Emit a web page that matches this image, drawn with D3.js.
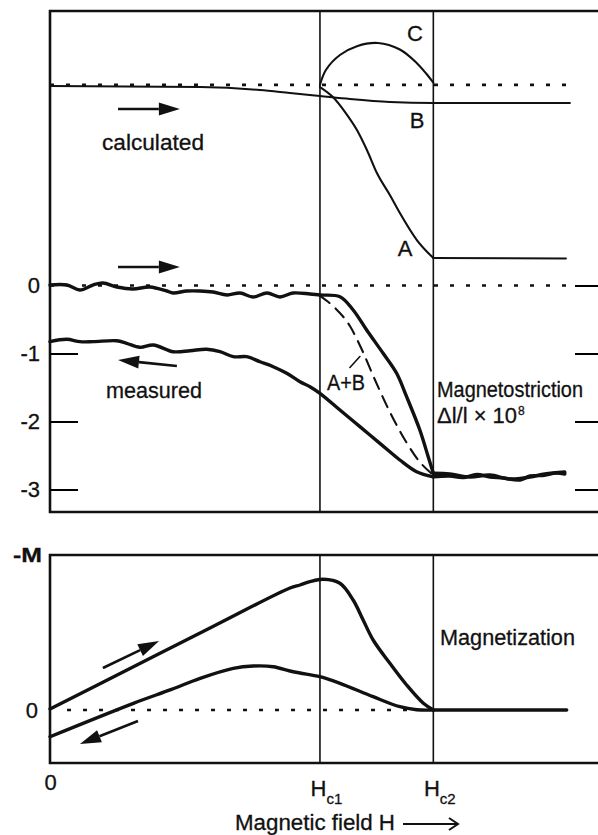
<!DOCTYPE html>
<html>
<head>
<title>Magnetostriction and magnetization</title>
<style>
body { margin: 0; background: #fff; }
text { font-family: 'Liberation Sans', Arial, sans-serif; fill: #111; }
.lbl { font-size: 22px; stroke: #111; stroke-width: 0.3; }
.curve { fill: none; stroke: #111; stroke-linejoin: round; stroke-linecap: round; }
</style>
<script src="https://d3js.org/d3.v7.min.js"></script>
</head>
<body>
<svg width="598" height="835"></svg>
<script>

// field in units of Hc1
const hc1 = 1.0;
const hc2 = 1.42;

// magnetostriction ticks (x 10^-8)
const strictTicks = [0, -1, -2, -3];

// calculated curves (offset so the dotted baseline sits at 2.95)
const calcBase = 2.95;
const calcA = [[1.0,2.919],[1.048,2.772],[1.093,2.551],[1.137,2.287],[1.174,1.993],[1.211,1.654],[1.259,1.331],[1.296,1.066],[1.359,0.669],[1.42,0.404]];
const calcATail = [[1.42,0.404],[1.911,0.397]];
const calcB = [[0,2.934],[0.556,2.919],[0.778,2.875],[0.889,2.831],[1.0,2.787],[1.111,2.743],[1.259,2.699],[1.42,2.684],[1.926,2.684]];
const calcC = [[1.0,2.949],[1.022,3.17],[1.074,3.39],[1.137,3.52],[1.215,3.566],[1.296,3.47],[1.359,3.27],[1.395,3.11],[1.42,2.982]];

// measured, increasing field
const measUp = [[0,0.007],[0.063,0.007],[0.111,-0.066],[0.159,0.007],[0.196,0.037],[0.248,-0.022],[0.307,-0.051],[0.370,-0.022],[0.433,-0.081],[0.456,-0.110],[0.507,-0.081],[0.556,-0.081],[0.604,-0.096],[0.656,-0.140],[0.704,-0.110],[0.752,-0.169],[0.804,-0.110],[0.852,-0.169],[0.900,-0.110],[0.963,-0.125],[1.0,-0.140],[1.074,-0.165],[1.123,-0.360],[1.173,-0.654],[1.234,-0.997],[1.284,-1.291],[1.321,-1.635],[1.370,-2.125],[1.401,-2.518],[1.42,-2.762]];
const measUpTail = [[1.42,-2.762],[1.481,-2.772],[1.556,-2.816],[1.630,-2.787],[1.704,-2.846],[1.778,-2.816],[1.833,-2.772],[1.907,-2.743]];
// measured, decreasing field
const measDown = [[0,-0.826],[0.062,-0.791],[0.111,-0.826],[0.160,-0.826],[0.247,-0.812],[0.284,-0.850],[0.333,-0.909],[0.383,-0.875],[0.457,-0.974],[0.519,-0.959],[0.580,-0.938],[0.630,-0.974],[0.679,-1.047],[0.729,-1.047],[0.778,-1.121],[0.827,-1.194],[0.877,-1.291],[0.926,-1.415],[0.963,-1.488],[1.0,-1.585],[1.074,-1.831],[1.148,-2.076],[1.222,-2.321],[1.296,-2.566],[1.358,-2.738],[1.42,-2.812]];
const measDownTail = [[1.42,-2.812],[1.481,-2.801],[1.530,-2.824],[1.581,-2.779],[1.630,-2.816],[1.678,-2.831],[1.741,-2.860],[1.778,-2.801],[1.826,-2.794],[1.874,-2.757],[1.907,-2.772]];
// A+B sum (dashed)
const sumAB = [[1.0,-0.154],[1.056,-0.331],[1.111,-0.596],[1.156,-0.949],[1.204,-1.390],[1.259,-1.860],[1.315,-2.272],[1.370,-2.596],[1.415,-2.772]];

// magnetization -M (arbitrary units)
const magUp = [[0,0.01],[0.3,0.42],[0.6,0.83],[0.889,1.22],[0.926,1.25],[0.963,1.283],[1.012,1.307],[1.074,1.267],[1.123,1.10],[1.160,0.90],[1.197,0.70],[1.259,0.467],[1.321,0.25],[1.383,0.067],[1.42,0]];
const magDown = [[0,-0.267],[0.309,0.067],[0.45,0.206],[0.556,0.317],[0.679,0.417],[0.753,0.44],[0.827,0.433],[0.889,0.39],[0.926,0.37],[1.0,0.333],[1.074,0.267],[1.197,0.133],[1.296,0.033],[1.358,0.003],[1.42,0]];
const magTail = [[1.42,0],[1.914,0]];

const svg = d3.select('svg');
const ink = '#111';

const x = d3.scaleLinear().domain([0, 2.03]).range([50, 598]);
const yS = d3.scaleLinear().domain([-3, 0]).range([489.5, 285.5]);
const yM = d3.scaleLinear().domain([0, 1]).range([710, 610]);

const panels = [{top: 11, bottom: 512}, {top: 555, bottom: 763}];

// frames (open on the right, cut by the page)
panels.forEach(p => {
  svg.append('path')
    .attr('d', `M598,${p.top}H${x(0)}V${p.bottom}H598`)
    .attr('fill', 'none').attr('stroke', ink).attr('stroke-width', 2.6);
  [hc1, hc2].forEach(h => {
    svg.append('line')
      .attr('x1', x(h)).attr('x2', x(h))
      .attr('y1', p.top).attr('y2', p.bottom)
      .attr('stroke', ink).attr('stroke-width', 1.6);
  });
});

// left axis, magnetostriction
const axL = svg.append('g').attr('transform', `translate(${x(0)},0)`)
  .call(d3.axisLeft(yS).tickValues(strictTicks).tickSize(-28).tickPadding(10)
    .tickFormat(d => d === 0 ? '0' : '-' + Math.abs(d)));
axL.select('.domain').remove();
axL.selectAll('.tick line').filter(d => d === 0).remove();
axL.selectAll('.tick line').attr('stroke-width', 2);
axL.selectAll('.tick text').attr('font-size', 22).attr('font-family', "'Liberation Sans', Arial, sans-serif")
  .attr('stroke', ink).attr('stroke-width', 0.3);

// right axis ticks
const axR = svg.append('g').attr('transform', 'translate(598,0)')
  .call(d3.axisRight(yS).tickValues(strictTicks).tickSize(-23).tickFormat(''));
axR.select('.domain').remove();
axR.selectAll('.tick line').attr('stroke-width', 2);

// left axis, magnetization
const axM = svg.append('g').attr('transform', `translate(${x(0)},0)`)
  .call(d3.axisLeft(yM).tickValues([0]).tickSize(0).tickPadding(12).tickFormat(d => '0'));
axM.select('.domain').remove();
axM.selectAll('.tick text').attr('font-size', 22).attr('font-family', "'Liberation Sans', Arial, sans-serif")
  .attr('stroke', ink).attr('stroke-width', 0.3);

// bottom axis
const axB = svg.append('g').attr('transform', 'translate(0,763)')
  .call(d3.axisBottom(x).tickValues([0, hc1, hc2]).tickSize(0).tickPadding(17).tickFormat(''));
axB.select('.domain').remove();
axB.selectAll('.tick text')
  .attr('font-size', 22).attr('font-family', "'Liberation Sans', Arial, sans-serif")
  .attr('stroke', ink).attr('stroke-width', 0.3)
  .each(function(d) {
    const t = d3.select(this);
    if (d === 0) { t.text('0').attr('dy', '0.45em'); return; }
    t.attr('dx', 6);
    t.append('tspan').text('H');
    t.append('tspan').text(d === hc1 ? 'c1' : 'c2').attr('font-size', 15).attr('dy', 8);
  });

// dotted baselines
const dotted = (g, pts, yScale) => g.append('path')
  .attr('d', d3.line().x(d => x(d[0])).y(d => yScale(d[1]))(pts))
  .attr('stroke', ink).attr('stroke-width', 2.6).attr('stroke-dasharray', '4,12').attr('fill', 'none');
dotted(svg, [[0, calcBase], [1.93, calcBase]], yS);
dotted(svg, [[0, 0], [1.93, 0]], yS);
dotted(svg, [[0.063, 0], [1.36, 0]], yM);

const smooth = d3.line().x(d => x(d[0])).y(d => yS(d[1])).curve(d3.curveMonotoneX);
const wiggly = d3.line().x(d => x(d[0])).y(d => yS(d[1])).curve(d3.curveCatmullRom.alpha(0.5));
const smoothM = d3.line().x(d => x(d[0])).y(d => yM(d[1])).curve(d3.curveMonotoneX);
const catM = d3.line().x(d => x(d[0])).y(d => yM(d[1])).curve(d3.curveCatmullRom.alpha(0.5));

const draw = (d, w, dash) => {
  const p = svg.append('path').attr('class', 'curve').attr('d', d).attr('stroke-width', w);
  if (dash) p.attr('stroke-dasharray', dash).attr('stroke-linecap', 'butt');
  return p;
};

// calculated
draw(smooth(calcB), 1.9);
draw(smooth(calcA), 2.1);
draw(smooth(calcATail), 2.1);
draw(d3.line().x(d => x(d[0])).y(d => yS(d[1])).curve(d3.curveCatmullRom.alpha(0.5))(calcC), 2.1);

// measured
draw(wiggly(measUp), 3.4);
draw(wiggly(measUpTail), 3.4);
draw(wiggly(measDown), 3.4);
draw(wiggly(measDownTail), 3.4);
draw(smooth(sumAB), 2.1, '12,8');
// A+B pointer
draw(d3.line().x(d => x(d[0])).y(d => yS(d[1]))([[1.111, -1.206], [1.148, -1.044]]), 1.6);

// magnetization
draw(catM(magUp), 3.4);
draw(catM(magDown), 3.4);
draw(smoothM(magTail), 3.4);

// direction arrows, given in data coordinates
const arrow = (p1, p2, yScale, w) => {
  const x1 = x(p1[0]), y1 = yScale(p1[1]), x2 = x(p2[0]), y2 = yScale(p2[1]);
  const a = Math.atan2(y2 - y1, x2 - x1);
  const L = 21, W = 6.5;
  const bx = x2 - L * Math.cos(a), by = y2 - L * Math.sin(a);
  svg.append('line').attr('x1', x1).attr('y1', y1).attr('x2', bx).attr('y2', by)
    .attr('stroke', ink).attr('stroke-width', w || 2.6);
  svg.append('polygon')
    .attr('points', [[x2, y2], [bx + W * Math.sin(a), by - W * Math.cos(a)], [bx - W * Math.sin(a), by + W * Math.cos(a)]].join(' '))
    .attr('fill', ink);
};
arrow([0.252, 2.596], [0.481, 2.596], yS);
arrow([0.252, 0.272], [0.481, 0.272], yS);
arrow([0.470, -1.184], [0.252, -1.096], yS);
arrow([0.196, 0.42], [0.404, 0.69], yM);
arrow([0.326, -0.11], [0.111, -0.34], yM);

// text labels
const label = (t, px, py, opts) => {
  const el = svg.append('text').attr('class', 'lbl').attr('x', px).attr('y', py).text(t);
  if (opts && opts.len) el.attr('textLength', opts.len).attr('lengthAdjust', 'spacingAndGlyphs');
  if (opts && opts.size) el.style('font-size', opts.size + 'px');
  if (opts && opts.anchor) el.attr('text-anchor', opts.anchor);
  if (opts && opts.weight) el.style('font-weight', opts.weight);
  return el;
};
label('C', 415, 41, {anchor: 'middle'});
label('B', 417, 128, {anchor: 'middle'});
label('A', 405, 256, {anchor: 'middle'});
label('calculated', 102, 150, {len: 102});
label('measured', 106, 398, {len: 96});
label('A+B', 327, 390, {len: 38});
label('Magnetostriction', 437, 397, {len: 146});
label('\u0394l/l \u00d7 10', 437, 423, {len: 80});
label('8', 518, 415, {size: 12});
label('Magnetization', 440, 645, {len: 135});
label('-M', 13, 562, {len: 29, weight: 'bold', size: 20});
label('Magnetic field H', 235, 830, {len: 160});

// field arrow
svg.append('line').attr('x1', 403).attr('x2', 457).attr('y1', 824).attr('y2', 824)
  .attr('stroke', ink).attr('stroke-width', 2);
svg.append('path').attr('d', 'M449,818L458,824L449,830').attr('fill', 'none')
  .attr('stroke', ink).attr('stroke-width', 2);

</script>
</body>
</html>
